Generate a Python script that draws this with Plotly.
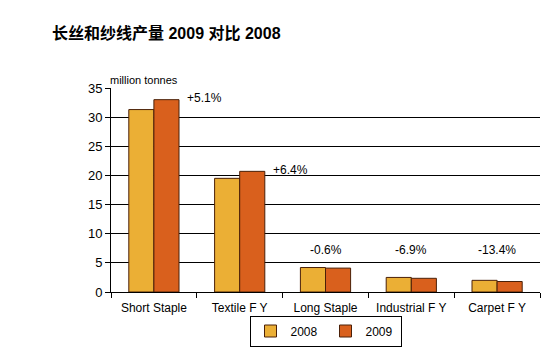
import plotly.graph_objects as go

categories = ["Short Staple", "Textile F Y", "Long Staple", "Industrial F Y", "Carpet F Y"]
v2008 = [31.3, 19.5, 4.2, 2.5, 2.0]
v2009 = [33.0, 20.7, 4.1, 2.35, 1.8]
changes = ["+5.1%", "+6.4%", "-0.6%", "-6.9%", "-13.4%"]
y_ticks = [0, 5, 10, 15, 20, 25, 30, 35]

FONT = "Liberation Sans, Arial, sans-serif"
OUTLINE = "#4a2008"

fig = go.Figure()
fig.add_trace(go.Bar(name="2008", x=categories, y=v2008,
                     marker=dict(color="#EBAF35", line=dict(color=OUTLINE, width=1))))
fig.add_trace(go.Bar(name="2009", x=categories, y=v2009,
                     marker=dict(color="#D9601D", line=dict(color=OUTLINE, width=1))))

# change labels
for i, (txt, a, b) in enumerate(zip(changes, v2008, v2009)):
    top = max(a, b)
    if top > 10:
        fig.add_annotation(x=i + 0.36, y=top + 0.3, text=txt, xref="x", yref="y",
                           xanchor="left", yanchor="middle", showarrow=False,
                           font=dict(family=FONT, size=12, color="#000"))
    else:
        fig.add_annotation(x=i, y=7.2, text=txt, xref="x", yref="y",
                           xanchor="center", yanchor="middle", showarrow=False,
                           font=dict(family=FONT, size=12, color="#000"))

fig.add_annotation(xref="x domain", yref="y domain",
                   x=(107 - 110.5) / 429.5, y=(292 - 80) / 204, text="million tonnes",
                   showarrow=False, font=dict(family=FONT, size=11, color="#000"),
                   xanchor="left", yanchor="middle")

fig.update_layout(
    width=556, height=349,
    margin=dict(l=110.5, r=16, t=88, b=57, autoexpand=False),
    paper_bgcolor="white", plot_bgcolor="white",
    barmode="group", bargap=0.415, bargroupgap=0,
    title=dict(text="<b>长丝和纱线产量 2009 对比 2008</b>", xref="container", yref="container",
               x=52 / 556, y=1 - 33 / 349, xanchor="left", yanchor="middle",
               font=dict(family="Liberation Sans, Noto Sans CJK SC, sans-serif", size=16, color="#000")),
    font=dict(family=FONT, size=12, color="#000"),
    showlegend=True,
    legend=dict(orientation="h", x=0.5, xanchor="center", y=(292 - 331) / 204, yanchor="middle",
                bordercolor="#000", borderwidth=1, bgcolor="white",
                font=dict(family=FONT, size=12), itemwidth=30, traceorder="normal",
                entrywidth=30, entrywidthmode="pixels",
                tracegroupgap=0),
    xaxis=dict(showline=True, linecolor="#000", linewidth=1, ticks="outside",
               tickson="boundaries", ticklen=5, tickcolor="#000", ticklabelstandoff=5,
               tickfont=dict(family=FONT, size=12), showgrid=False),
    yaxis=dict(range=[0, 35], tickvals=y_ticks, showline=True, linecolor="#000", linewidth=1,
               ticks="outside", ticklen=5, tickcolor="#000", showgrid=True, gridcolor="#000",
               gridwidth=1, zeroline=False, tickfont=dict(family=FONT, size=13)),
)

fig.write_html("out.html")
